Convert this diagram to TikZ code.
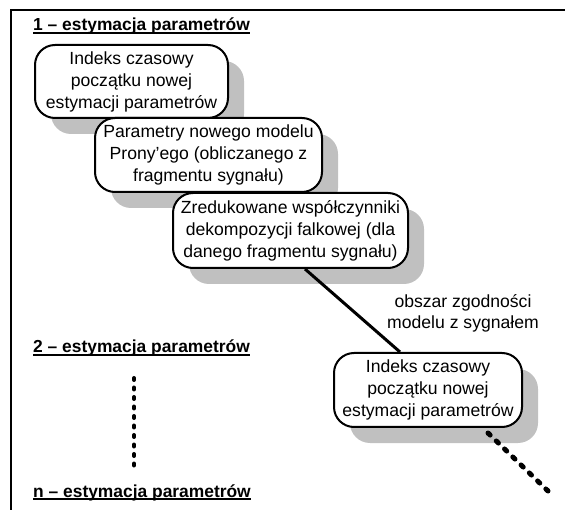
\documentclass[tikz,border=0pt]{standalone}
\usepackage{fontspec}
\setmainfont{Liberation Sans}
\usetikzlibrary{shadows}
\definecolor{shadowgray}{RGB}{192,192,192}
\newcommand{\ulthick}[1]{\setbox0\hbox{#1}\rlap{\rule[-3pt]{\wd0}{1.6pt}}\box0}
\tikzset{
  stagebox/.style={draw=black, line width=2pt, fill=white, rounded corners=20pt,
    inner sep=0pt, align=center, font=\fontsize{17.6}{22}\selectfont,
    drop shadow={shadow xshift=16pt, shadow yshift=-16pt, fill=shadowgray, opacity=1}},
  title/.style={anchor=base west, inner sep=0pt, font=\fontsize{17.4}{20}\selectfont\bfseries},
  note/.style={align=center, inner sep=0pt, font=\fontsize{17.6}{21}\selectfont},
  frameline/.style={line width=2.2pt},
  link/.style={line width=3pt},
  dotsv/.style={line width=4pt, line cap=round, dash pattern=on 2pt off 7.5pt},
  dotsd/.style={line width=5pt, line cap=round, dash pattern=on 3pt off 8.5pt}
}
\begin{document}
\begin{tikzpicture}[x=1pt, y=-1pt]
\useasboundingbox (0,0) rectangle (565,510);
\coordinate (fl) at (11,510);
\coordinate (ftl) at (11,10);
\coordinate (fr) at (565,10);
\draw[frameline] (fl) -- (ftl) -- (fr);

\node[title] (t1) at (33,31) {\ulthick{1 – estymacja parametrów}};
\node[title] (t2) at (33,353) {\ulthick{2 – estymacja parametrów}};
\node[title] (tn) at (33,497) {\ulthick{n – estymacja parametrów}};

\node[stagebox, minimum width=193pt, minimum height=73pt] (b1) at (131.5,81.5)
  {Indeks czasowy\\początku nowej\\estymacji parametrów};
\node[stagebox, minimum width=227pt, minimum height=74pt] (b2) at (208.5,155)
  {Parametry nowego modelu\\Prony’ego (obliczanego z\\fragmentu sygnału)};
\node[stagebox, minimum width=235pt, minimum height=75pt] (b3) at (290.5,230.5)
  {Zredukowane współczynniki\\dekompozycji falkowej (dla\\danego fragmentu sygnału)};
\node[stagebox, minimum width=188pt, minimum height=74pt] (b4) at (428,390)
  {Indeks czasowy\\początku nowej\\estymacji parametrów};

\draw[link] ([xshift=14.5pt]b3.south) -- ([xshift=-28pt]b4.north);

\node[note] (obs) at (463,313) {obszar zgodności\\modelu z sygnałem};

\coordinate (vtop) at (134,378);
\coordinate (vbot) at (134,472);
\draw[dotsv] (vtop) -- (vbot);

\coordinate (dend) at (548,491);
\draw[dotsd] ([xshift=60pt,yshift=-5pt]b4.south) -- (dend);
\end{tikzpicture}
\end{document}
